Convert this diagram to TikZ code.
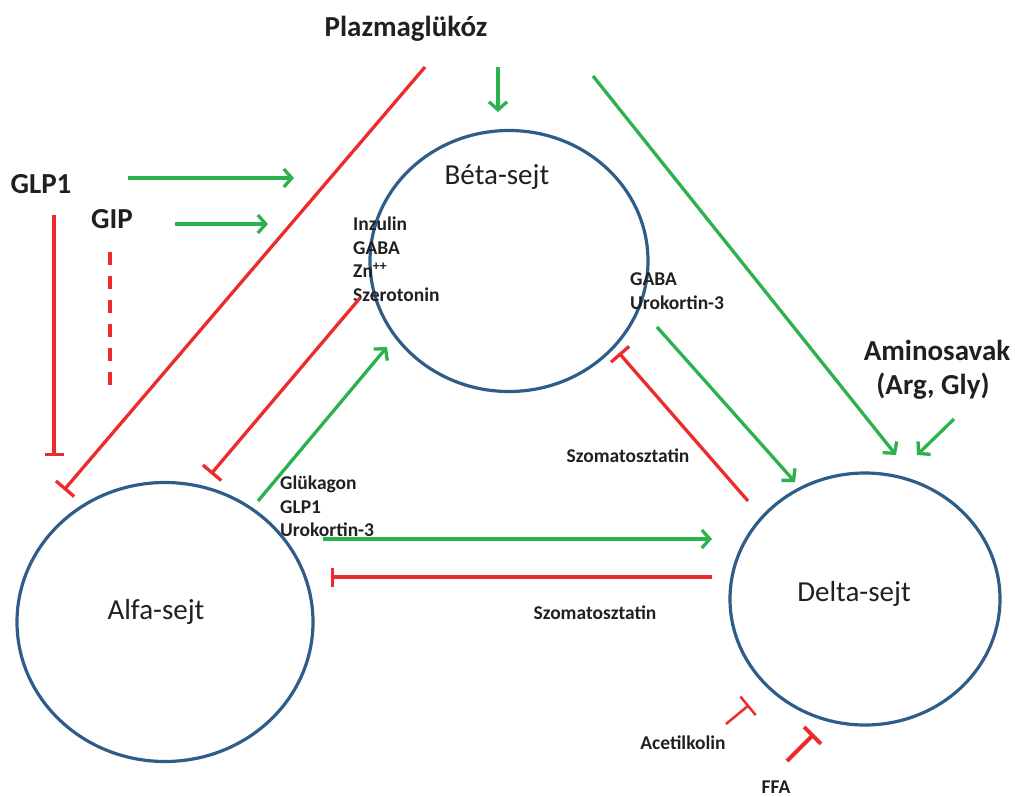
\documentclass[tikz,border=0pt]{standalone}
\usepackage{fontspec}
\setmainfont{Carlito}
\usetikzlibrary{arrows.meta,shapes.geometric}
\definecolor{cellblue}{RGB}{47,93,138}
\definecolor{actgreen}{RGB}{43,178,76}
\definecolor{inhred}{RGB}{236,44,44}
\definecolor{txtgray}{RGB}{35,31,32}
\tikzset{
  cell/.style={shape=ellipse,draw=cellblue,line width=3.2pt,inner sep=0pt},
  celltext/.style={font=\fontsize{29}{34}\selectfont,text=txtgray,inner sep=0pt,anchor=base},
  bigtext/.style={font=\fontsize{29}{34}\selectfont\bfseries,text=txtgray,inner sep=0pt,anchor=base},
  smalltext/.style={font=\fontsize{19.5}{23.5}\selectfont\bfseries,text=txtgray,inner sep=0pt},
  act/.style={draw=actgreen,line width=3.3pt,-{Straight Barb[length=8pt,width=18pt]}},
  inh/.style={draw=inhred,line width=3.3pt,-{Bar[width=24pt]}}
}

\begin{document}
\begin{tikzpicture}[x=1pt,y=-1pt]
		\useasboundingbox (0,0) rectangle (1015,796);
		% cells
		\node(beta) [cell,minimum width=278pt,minimum height=261pt] at (509,261) {};
		\node(alfa) [cell,minimum width=296pt,minimum height=279pt] at (165,622) {};
		\node(delta) [cell,minimum width=270pt,minimum height=252pt] at (865,599) {};
		\node(betatxt) [celltext] at (497,184) {Béta-sejt};
		\node(alfatxt) [celltext] at (156,619) {Alfa-sejt};
		\node(deltatxt) [celltext] at (854,601) {Delta-sejt};
		% stimuli
		\node(glukoz) [bigtext] at (406,36) {Plazmaglükóz};
		\node(glp1) [bigtext] at (41,193) {GLP1};
		\node(gip) [bigtext] at (112,228) {GIP};
		\node(amino) [bigtext] at (937,360) {Aminosavak};
		\node(argly) [bigtext] at (933,394) {(Arg, Gly)};
		\node(ach) [smalltext,anchor=base] at (683,749) {Acetilkolin};
		\node(ffa) [smalltext,anchor=base] at (776,793) {FFA};
		% secreted factors
		\node(betaout) [smalltext,align=left,anchor=north west] at (353,217) {Inzulin\\GABA\\Zn\textsuperscript{++}\\Szerotonin};
		\node(betaout2) [smalltext,align=left,anchor=north west] at (630,273) {GABA\\Urokortin-3};
		\node(alfaout) [smalltext,align=left,anchor=north west] at (280,476) {Glükagon\\GLP1\\Urokortin-3};
		\node(somat1) [smalltext,anchor=base] at (628,462) {Szomatosztatin};
		\node(somat2) [smalltext,anchor=base] at (595,619) {Szomatosztatin};
		% connector ends
		\coordinate (glp1a) at (128,178); \coordinate (glp1b) at (294,178);
		\coordinate (gipa) at (175,224); \coordinate (gipb) at (268,224);
		\coordinate (glp1c) at (54,215); \coordinate (glp1d) at (54,456);
		\coordinate (gipc) at (110,252); \coordinate (gipd) at (110,395);
		\coordinate (gla) at (425,67); \coordinate (glb) at (64,490);
		\coordinate (glc) at (498,67); \coordinate (gld) at (498,112);
		\coordinate (gle) at (593,76); \coordinate (glf) at (896,455);
		\coordinate (ama) at (954,419); \coordinate (amb) at (917,455);
		\coordinate (ba1) at (360,298); \coordinate (ba2) at (211,474);
		\coordinate (ab1) at (258,501); \coordinate (ab2) at (387,347);
		\coordinate (ad1) at (323,539); \coordinate (ad2) at (712,539);
		\coordinate (da1) at (712,577); \coordinate (da2) at (331,577);
		\coordinate (bd1) at (657,327); \coordinate (bd2) at (795,482);
		\coordinate (db1) at (748,501); \coordinate (db2) at (619,353);
		\coordinate (ach1) at (726,724); \coordinate (ach2) at (749,705);
		\coordinate (ffa1) at (787,761); \coordinate (ffa2) at (814,734);
		% activation
		\draw [act] (glp1a) -- (glp1b);
		\draw [act] (gipa) -- (gipb);
		\draw [act] (glc) -- (gld);
		\draw [act] (gle) -- (glf);
		\draw [act] (ama) -- (amb);
		\draw [act] (ab1) -- (ab2);
		\draw [act] (ad1) -- (ad2);
		\draw [act] (bd1) -- (bd2);
		% inhibition
		\draw [inh,-{Bar[width=19pt]}] (glp1c) -- (glp1d);
		\draw [draw=inhred,line width=3.3pt,dash pattern=on 13pt off 11pt] (gipc) -- (gipd);
		\draw [inh] (gla) -- (glb);
		\draw [inh] (ba1) -- (ba2);
		\draw [inh,-{Bar[width=19pt]}] (da1) -- (da2);
		\draw [inh] (db1) -- (db2);
		\draw [inh,line width=2.5pt] (ach1) -- (ach2);
		\draw [inh,line width=4pt] (ffa1) -- (ffa2);
	\end{tikzpicture}
\end{document}
